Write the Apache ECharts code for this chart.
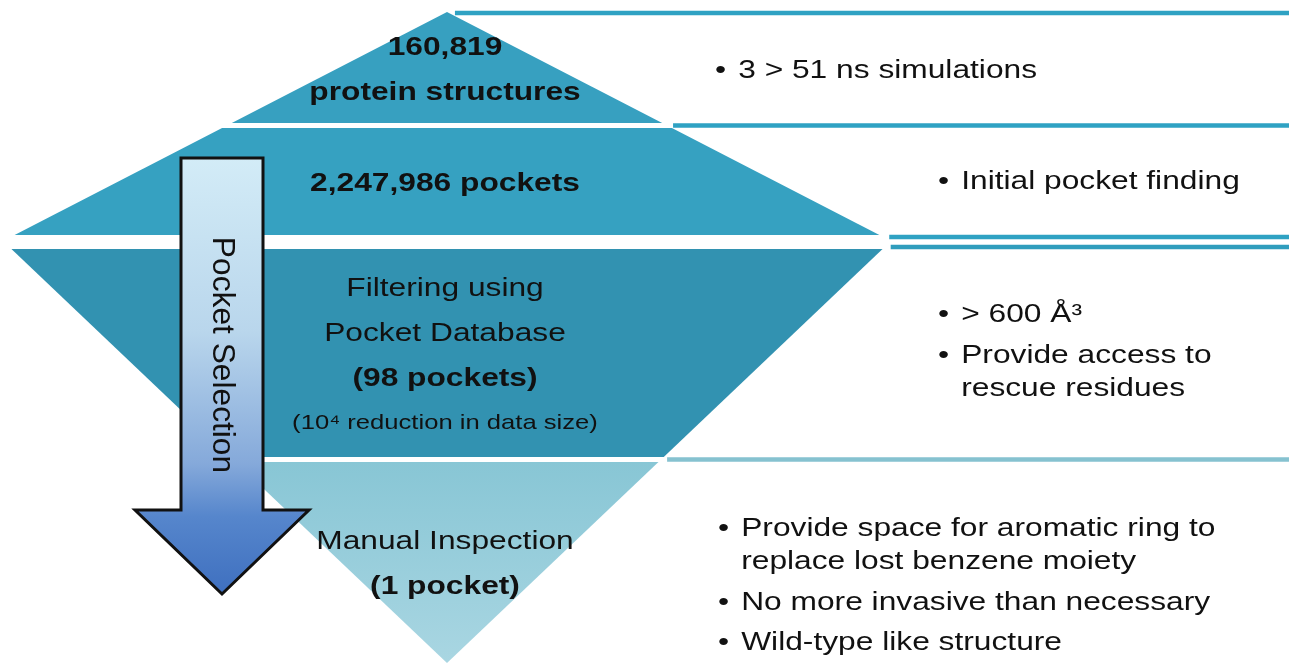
<!DOCTYPE html>
<html lang="en">
<head>
    <meta charset="UTF-8">
    <title>Pocket Selection</title>
    <script src="https://cdn.jsdelivr.net/npm/echarts@6/dist/echarts.min.js"></script>
    <style>
        body { margin: 0; background: #fff; }
    </style>
</head>
<body>
    <div id="myChart" style="width: 1289px;height: 663px;"></div>

    <script>
        // stage texts (rich markup: b = bold, n = normal, s = small)
        const stageTitles = [
            '{b|160,819}\n{b|protein structures}',
            '{b|2,247,986 pockets}',
            '{n|Filtering using}\n{n|Pocket Database}\n{b|(98 pockets)}\n{s|(10⁴ reduction in data size)}',
            '{n|Manual Inspection}\n{b|(1 pocket)}'
        ];
        const stageNotes = [
            ['3 > 51 ns simulations'],
            ['Initial pocket finding'],
            ['> 600 Å³', 'Provide access to\nrescue residues'],
            ['Provide space for aromatic ring to\nreplace lost benzene moiety', 'No more invasive than necessary', 'Wild-type like structure']
        ];
        // vertical extent of each stage band (axis units, top -> bottom)
        const bandTop = [12, 128, 249, 462];
        const bandBottom = [123, 235, 457, 663];
        // horizontal rules on the right side
        const dividerY = [13, 125.5, 237, 247, 459.5];

        // diamond outline
        const centerX = 447, apexTop = 12, waistY = 241, apexBottom = 663, maxHalf = 444;
        const STRETCH = 1.22;
        const FONT = '"Liberation Sans", Arial, sans-serif';

        // layout of the note blocks
        const noteLeft = [715, 938, 938, 718];
        const noteMid = [71, 182, 352, 586];
        const titleShift = [3, 2, 3, 2];
        const bandColors = ['#37a0c0', '#36a1c1', '#3292b1', null];
        const dividerColors = ['#2fa2c3', '#2fa2c3', '#2fa2c3', '#2f9dbd', '#86c2d0'];

        function halfWidth(y) {
            let w;
            if (y <= waistY) w = maxHalf * (y - apexTop) / (waistY - apexTop);
            else w = maxHalf * (apexBottom - y) / (apexBottom - waistY);
            return Math.max(0, w);
        }

        function noteText(items) {
            const out = [];
            items.forEach((item, j) => {
                if (j > 0) out.push('{sp| }');
                item.split('\n').forEach((line, k) => {
                    out.push((k === 0 ? '{bul|•}' : '{ind| }') + '{t|' + line + '}');
                });
            });
            return out.join('\n');
        }

        const chart = echarts.init(document.getElementById('myChart'));

        const option = {
            animation: false,
            backgroundColor: '#ffffff',
            grid: { left: 0, right: 0, top: 0, bottom: 0 },
            xAxis: { type: 'value', min: 0, max: 1289, show: false },
            yAxis: { type: 'value', min: 0, max: 663, inverse: true, show: false },
            series: [
                {
                    // stage bands + centre titles
                    type: 'custom',
                    silent: true,
                    clip: false,
                    data: bandTop.map((t, i) => [centerX, (t + bandBottom[i]) / 2, i]),
                    renderItem: function (params, api) {
                        const i = api.value(2);
                        const top = bandTop[i], bot = bandBottom[i];
                        const pts = [
                            [centerX - halfWidth(top), top],
                            [centerX + halfWidth(top), top],
                            [centerX + halfWidth(bot), bot],
                            [centerX - halfWidth(bot), bot]
                        ].map(p => api.coord(p));
                        const fill = bandColors[i] || new echarts.graphic.LinearGradient(0, 0, 0, 1, [
                            { offset: 0, color: '#88c6d5' },
                            { offset: 1, color: '#a9d6e2' }
                        ]);
                        const mid = api.coord([centerX - 2, (top + bot) / 2 + titleShift[i]]);
                        return {
                            type: 'group',
                            children: [
                                { type: 'polygon', shape: { points: pts }, style: { fill: fill } },
                                {
                                    type: 'text',
                                    x: mid[0], y: mid[1],
                                    scaleX: STRETCH,
                                    style: {
                                        text: stageTitles[i],
                                        align: 'center',
                                        verticalAlign: 'middle',
                                        fill: '#111',
                                        rich: {
                                            b: { fontFamily: FONT, fontSize: 26, fontWeight: 'bold', lineHeight: 45, fill: '#111' },
                                            n: { fontFamily: FONT, fontSize: 26, lineHeight: 45, fill: '#111' },
                                            s: { fontFamily: FONT, fontSize: 21, lineHeight: 45, fill: '#111' }
                                        }
                                    }
                                }
                            ]
                        };
                    }
                },
                {
                    // right-side horizontal rules
                    type: 'custom',
                    silent: true,
                    clip: false,
                    data: dividerY.map((y, i) => [1289, y, i]),
                    renderItem: function (params, api) {
                        const y = api.value(1), i = api.value(2);
                        const a = api.coord([centerX + halfWidth(y) + 6, y]);
                        const b = api.coord([1289, y]);
                        return {
                            type: 'line',
                            shape: { x1: a[0], y1: a[1], x2: b[0], y2: b[1] },
                            style: { stroke: dividerColors[i], lineWidth: 4.5 }
                        };
                    }
                },
                {
                    // bullet notes
                    type: 'custom',
                    silent: true,
                    clip: false,
                    data: stageNotes.map((n, i) => [noteLeft[i], noteMid[i], i]),
                    renderItem: function (params, api) {
                        const i = api.value(2);
                        const p = api.coord([api.value(0), api.value(1)]);
                        return {
                            type: 'text',
                            x: p[0], y: p[1],
                            scaleX: STRETCH,
                            style: {
                                text: noteText(stageNotes[i]),
                                align: 'left',
                                verticalAlign: 'middle',
                                fill: '#111',
                                rich: {
                                    bul: { fontFamily: FONT, fontSize: 26, width: 19, lineHeight: 33, fill: '#111' },
                                    ind: { fontFamily: FONT, fontSize: 26, width: 19, lineHeight: 33 },
                                    t: { fontFamily: FONT, fontSize: 26, lineHeight: 33, fill: '#111' },
                                    sp: { fontSize: 6, lineHeight: 7.5 }
                                }
                            }
                        };
                    }
                },
                {
                    // "Pocket Selection" arrow
                    type: 'custom',
                    silent: true,
                    clip: false,
                    data: [[222, 158, 510, 594]],
                    renderItem: function (params, api) {
                        const cx = api.value(0), top = api.value(1), neck = api.value(2), tip = api.value(3);
                        const shaft = 41, head = 87;
                        const pts = [
                            [cx - shaft, top], [cx + shaft, top], [cx + shaft, neck], [cx + head, neck],
                            [cx, tip], [cx - head, neck], [cx - shaft, neck]
                        ].map(p => api.coord(p));
                        const mid = api.coord([cx, 355]);
                        return {
                            type: 'group',
                            children: [
                                {
                                    type: 'polygon',
                                    shape: { points: pts },
                                    style: {
                                        fill: new echarts.graphic.LinearGradient(0, 0, 0, 1, [
                                            { offset: 0, color: '#d3ecf7' },
                                            { offset: 0.4, color: '#b9d6ec' },
                                            { offset: 0.7, color: '#85a9da' },
                                            { offset: 0.82, color: '#5686cc' },
                                            { offset: 1, color: '#3e6fbf' }
                                        ]),
                                        stroke: '#111',
                                        lineWidth: 3,
                                        lineJoin: 'miter'
                                    }
                                },
                                {
                                    type: 'text',
                                    x: mid[0], y: mid[1],
                                    rotation: -Math.PI / 2,
                                    scaleX: STRETCH,
                                    scaleY: STRETCH,
                                    style: {
                                        text: 'Pocket Selection',
                                        align: 'center',
                                        verticalAlign: 'middle',
                                        fontFamily: FONT,
                                        fontSize: 26,
                                        fill: '#111'
                                    }
                                }
                            ]
                        };
                    }
                }
            ]
        };
        chart.setOption(option);
    </script>
</body>
</html>
